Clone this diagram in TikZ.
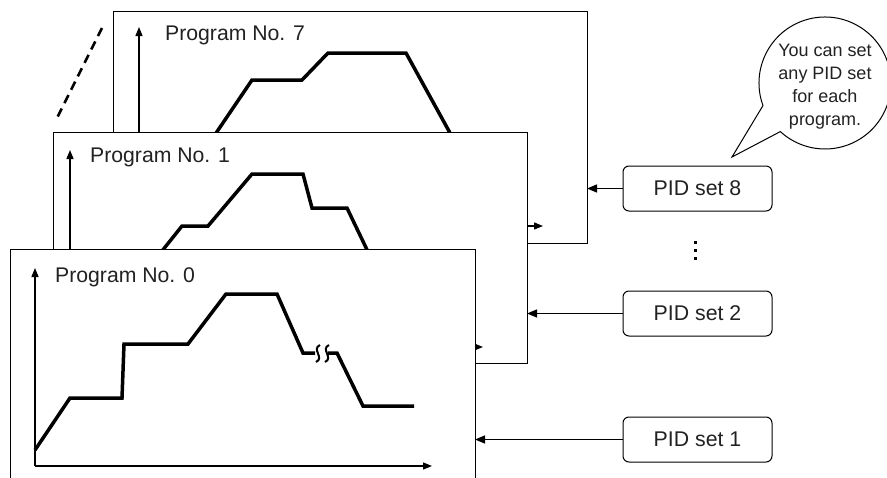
\documentclass[tikz,border=0pt]{standalone}
\usepackage{fontspec}
\setmainfont{Liberation Sans}
\usetikzlibrary{arrows.meta,calc}
\definecolor{txt}{HTML}{222222}
\begin{document}
\begin{tikzpicture}[x=1pt,y=-1pt,
  progbox/.style={draw, fill=white, line width=1pt, inner sep=0pt, outer sep=0pt, anchor=north west},
  axisline/.style={line width=1.3pt, -{Triangle[length=9pt,width=7pt]}},
  curveline/.style={line width=3.5pt, line join=miter, line cap=butt},
  pidbox/.style={draw, line width=1pt, rounded corners=6pt, minimum width=149pt, minimum height=45pt, inner sep=0pt, font=\fontsize{21.3}{25}\selectfont, text=txt},
  pidarrow/.style={line width=1.3pt, -{Triangle[length=10pt,width=8pt]}},
  proglabel/.style={anchor=base west, inner sep=0pt, font=\fontsize{21.2}{25}\selectfont, text=txt},
  breakmark/.style={line width=2pt}
]
\useasboundingbox (0,0) rectangle (887,477);
\clip (0,0) rectangle (887,477);

% dashed stack indicator
\draw[line width=2.5pt, dash pattern=on 9pt off 6pt] (102,28) -- (56,120);

% Program No. 7
\node[progbox, minimum width=474pt, minimum height=232pt] (p7) at (113,11) {};
\draw[axisline] (139,226) -- (139,27);
\draw[axisline] (139,226) -- (543,226);
\draw[curveline] (210,142) -- (252,80) -- (302,80) -- (328,53) -- (406,53) -- (455,142);
\node[proglabel] (l7) at (165,40) {Program No. 7};

% Program No. 1
\node[progbox, minimum width=474pt, minimum height=231pt] (p1) at (53,132) {};
\draw[axisline] (70,347) -- (70,150);
\draw[axisline] (70,347) -- (483,347);
\draw[curveline] (158,256) -- (182,226) -- (208,226) -- (252,174) -- (303,174) -- (312,208) -- (347,208) -- (370,256);
\node[proglabel] (l1) at (90,162) {Program No. 1};

% Program No. 0
\node[progbox, minimum width=465pt, minimum height=240pt] (p0) at (10,249) {};
\draw[axisline] (35,466) -- (35,268);
\draw[axisline] (35,466) -- (432,466);
\draw[curveline] (35,450) -- (70,398) -- (122,398) -- (124,344) -- (188,344) -- (226,294) -- (277,294) -- (303,353) -- (315,353);
\draw[curveline] (328,353) -- (337,353) -- (363,406) -- (414,406);
\draw[breakmark] (320,345) .. controls (311,349) and (325,358) .. (316,362);
\draw[breakmark] (329,345) .. controls (320,349) and (334,358) .. (325,362);
\node[proglabel] (l0) at (55,282) {Program No. 0};

% PID sets
\node[pidbox] (pid8) at (697.5,188.5) {PID set 8};
\node[pidbox] (pid2) at (697.5,313.5) {PID set 2};
\node[pidbox] (pid1) at (697.5,439.5) {PID set 1};
\draw[pidarrow] (pid8.west) -- (pid8.west -| p7.east);
\draw[pidarrow] (pid2.west) -- (pid2.west -| p1.east);
\draw[pidarrow] (pid1.west) -- (pid1.west -| p0.east);

% vertical ellipsis
\foreach \yy in {242,250,258} \fill (693.5,\yy-1.5) rectangle (696.5,\yy+1.5);

% speech bubble
\draw[line width=1pt, fill=white] (732,157) -- ($(825,83)+(160:66)$) arc[start angle=160, end angle=492.6, radius=66] -- cycle;
\node[align=center, inner sep=0pt, text=txt, font=\fontsize{18}{23}\selectfont] (note) at (825,87) {You can set\\any PID set\\for each\\program.};
\end{tikzpicture}
\end{document}
